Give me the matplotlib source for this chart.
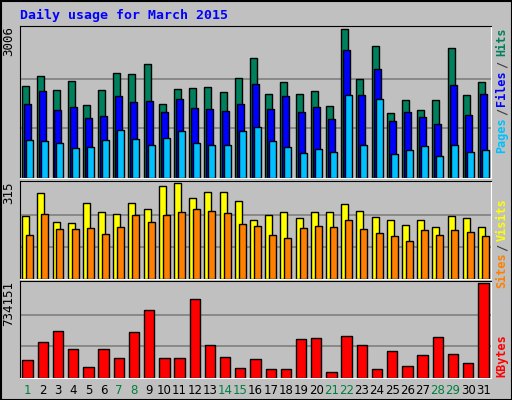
import numpy as np
import matplotlib
matplotlib.use("Agg")
import matplotlib.pyplot as plt
from matplotlib.patches import Rectangle

days = list(range(1, 32))
weekend = {1, 7, 8, 14, 15, 21, 22, 28, 29}

hits = [1863, 2067, 1768, 1965, 1476, 1782, 2108, 2088, 2292, 1496, 1802, 1822, 1843, 1741, 2026, 2414,
        1700, 1945, 1700, 1761, 1455, 3006, 2006, 2659, 1312, 1578, 1374, 1578, 2618, 1680, 1945]
files = [1496, 1761, 1374, 1435, 1210, 1251, 1659, 1537, 1557, 1333, 1598, 1414, 1394, 1353, 1496, 1904,
         1394, 1659, 1333, 1435, 1190, 2577, 1680, 2190, 1149, 1333, 1231, 1088, 1884, 1272, 1700]
pages = [762, 741, 700, 598, 619, 762, 966, 782, 660, 802, 945, 700, 660, 660, 945, 1027,
         741, 619, 496, 578, 517, 1680, 660, 1598, 476, 558, 639, 435, 660, 517, 558]
visits = [205, 281, 188, 185, 250, 219, 212, 250, 229, 305, 315, 267, 284, 284, 257, 192,
          209, 219, 199, 219, 219, 246, 222, 202, 195, 178, 195, 171, 205, 199, 171]
sites = [144, 212, 164, 164, 168, 147, 171, 209, 188, 209, 219, 229, 222, 216, 181, 175,
         144, 133, 168, 175, 171, 195, 164, 151, 140, 123, 161, 144, 161, 154, 140]
kbytes = [139308, 275937, 364344, 227715, 83049, 227715, 155382, 356307, 525084, 155382, 155382,
          613491, 251826, 163419, 75012, 147345, 66975, 66975, 300048, 308085, 42864, 324159,
          251826, 66975, 211641, 91086, 179493, 316122, 187530, 115197, 734151]

BG = "#c0c0c0"
W, H = 512, 400
fig = plt.figure(figsize=(W / 100, H / 100), dpi=100, facecolor=BG)
fig.patches.append(Rectangle((0.5 / W, 0.5 / H), 1 - 1 / W, 1 - 1 / H, transform=fig.transFigure,
                             fill=False, ec="black", lw=1.5))
mono = "DejaVu Sans Mono"


def panel(y0, y1):
    # pixel coords from the top -> figure fractions
    return fig.add_axes([20 / W, 1 - y1 / H, (491 - 20) / W, (y1 - y0) / H], facecolor=BG)


def side_label(parts):
    # parts: (text, color, top pixel); vertical text read bottom-to-top
    for txt, col, top in parts:
        fig.text(502 / W, 1 - top / H, txt, color=col, rotation=90, ha="center", va="top",
                 fontsize=8.5, family=mono, fontweight="bold")


x = np.array(days)


def style(ax, ymax):
    ax.set_xlim(0.5, 31.5)
    ax.set_ylim(0, ymax * 1.02)
    ax.set_xticks([])
    ax.set_yticks([])
    for s in ax.spines.values():
        s.set_color("black")
    ax.spines["right"].set_color("white")
    ax.spines["bottom"].set_color("white")
    for frac in (1 / 3, 2 / 3):
        ax.axhline(ymax * frac, color="#808080", lw=1.2, zorder=0)


kw = dict(edgecolor="black", linewidth=1, zorder=2)

ax1 = panel(26, 178)
ax1.bar(x - 0.13, hits, width=0.46, color="#00805c", **kw)
ax1.bar(x, files, width=0.46, color="#0000ff", **kw)
ax1.bar(x + 0.13, pages, width=0.46, color="#00c0ff", **kw)
style(ax1, max(hits))
ax1.text(-0.01, 1.0, str(max(hits)), transform=ax1.transAxes, rotation=90, ha="right", va="top",
         fontsize=9, family=mono)
side_label([("Hits", "#00805c", 28), ("/", "#404040", 61), ("Files", "#0000ff", 70),
            ("/", "#404040", 108), ("Pages", "#00c0ff", 117)])

ax2 = panel(181, 279)
ax2.bar(x - 0.13, visits, width=0.46, color="#ffff00", **kw)
ax2.bar(x + 0.13, sites, width=0.46, color="#ff8000", **kw)
style(ax2, max(visits))
ax2.text(-0.01, 1.0, str(max(visits)), transform=ax2.transAxes, rotation=90, ha="right", va="top",
         fontsize=9, family=mono)
side_label([("Visits", "#ffff00", 198), ("/", "#404040", 244), ("Sites", "#ff8000", 252)])

ax3 = panel(281, 378)
ax3.bar(x, kbytes, width=0.68, color="#ff0000", **kw)
style(ax3, max(kbytes))
ax3.text(-0.01, 1.0, str(max(kbytes)), transform=ax3.transAxes, rotation=90, ha="right", va="top",
         fontsize=9, family=mono)
side_label([("KBytes", "#ff0000", 334)])

for d in days:
    ax3.text(d, -0.06, str(d), transform=ax3.get_xaxis_transform(), ha="center", va="top", fontsize=8.5,
             color="#008040" if d in weekend else "black")

fig.text(20 / W, 1 - 15 / H, "Daily usage for March 2015", color="#0000ff", fontsize=9.5,
         family=mono, fontweight="bold", va="center")

fig.savefig("out.png", dpi=100, facecolor=BG)
